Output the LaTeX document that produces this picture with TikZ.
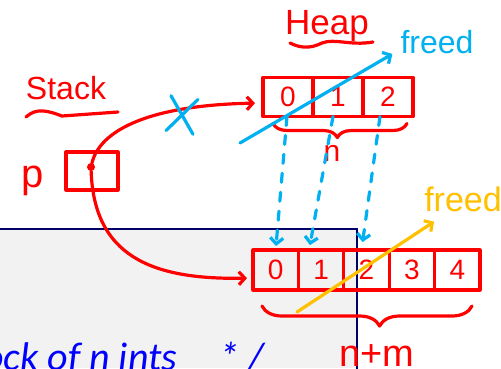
\documentclass[tikz,border=0pt]{standalone}
\usepackage{fontspec}
\newfontfamily\handfont{Liberation Sans}
\newfontfamily\slidefont{Carlito}
\usetikzlibrary{positioning}
\usetikzlibrary{arrows.meta}
\usetikzlibrary{shapes.misc}
\usetikzlibrary{decorations.pathreplacing}
\definecolor{inkred}{RGB}{255,0,0}
\definecolor{inkblue}{RGB}{0,176,240}
\definecolor{inkorange}{RGB}{255,192,0}
\definecolor{slidegray}{RGB}{242,242,242}
\definecolor{slidenavy}{RGB}{0,0,102}
\definecolor{slideblue}{RGB}{0,0,255}
\tikzset{
        ink/.style={line width=3.2pt, line cap=round, line join=round},
        % Hand-written labels
        label_red/.style={inner sep=0pt, text=inkred, font=\handfont\fontsize{32}{36}\selectfont},
        label_blue/.style={label_red, text=inkblue},
        label_orange/.style={label_red, text=inkorange},
        % Array cells
        cell_heap/.style={ink, draw=inkred, outer sep=0pt, inner sep=0pt, minimum width=50pt, minimum height=39pt, text=inkred, font=\handfont\fontsize{28}{30}\selectfont},
        cell_new/.style={cell_heap, minimum width=45.4pt, minimum height=40pt},
        % Pointers
        ptr_red/.style={ink, draw=inkred, -{Straight Barb[length=6pt,width=13pt]}},
        ptr_blue/.style={ink, draw=inkblue, -{Straight Barb[length=6pt,width=13pt]}},
        ptr_orange/.style={ink, draw=inkorange, -{Straight Barb[length=6pt,width=13pt]}},
        ptr_copy/.style={ptr_blue, dash pattern=on 9pt off 10pt},
        % Braces
        brace_red/.style={ink, draw=inkred, decorate, decoration={brace, mirror, amplitude=#1}}
}
\begin{document}
\begin{tikzpicture}[x=1pt, y=-1pt]
    \useasboundingbox (0,0) rectangle (501,368);
    % slide underneath
    \fill[slidegray] (0,229) rectangle (357,368);
    \draw[slidenavy, line width=2pt] (0,229) -- (357,229) -- (357,370);
    \node[anchor=base west, inner sep=0pt, text=slideblue, font=\slidefont\itshape\fontsize{40}{44}\selectfont] (slide_code) at (-17,370) {ock of n ints\hspace{42pt}* /};

    % stack side
    \node[label_red] (stack_label) at (66,88) {Stack};
    \draw[ink, draw=inkred] (26,117) .. controls (36,108) and (46,110) .. (62,116) -- (118,112);
    \node[label_red, font=\handfont\fontsize{40}{44}\selectfont] (p_label) at (33,181) {p};
    \node[ink, draw=inkred, minimum width=52pt, minimum height=38pt] (p_box) at (92,171) {};
    \node[circle, fill=inkred, inner sep=0pt, minimum size=8pt] (p_dot) at (91,167) {};

    % heap side
    \node[label_red, font=\handfont\fontsize{35}{38}\selectfont] (heap_label) at (327,26) {Heap};
    \draw[ink, draw=inkred] (290,43) .. controls (300,48) and (310,49) .. (322,43) .. controls (335,38) and (350,46) .. (373,42);
    \node[cell_heap] (heap_0) at (288,97) {0};
    \node[cell_heap, right=0pt of heap_0] (heap_1) {1};
    \node[cell_heap, right=0pt of heap_1] (heap_2) {2};
    \draw[brace_red=14pt, decoration={aspect=0.48}] ([xshift=10pt,yshift=-7pt]heap_0.south west) -- ([xshift=-6pt,yshift=-7pt]heap_2.south east);
    \node[label_red, font=\handfont\fontsize{30}{32}\selectfont] (n_label) at (332,153) {n};

    % new block
    \node[cell_new] (new_0) at (275.7,270) {0};
    \node[cell_new, right=0pt of new_0] (new_1) {1};
    \node[cell_new, right=0pt of new_1] (new_2) {2};
    \node[cell_new, right=0pt of new_2] (new_3) {3};
    \node[cell_new, right=0pt of new_3] (new_4) {4};
    \draw[brace_red=20pt, decoration={aspect=0.56}] ([xshift=9pt,yshift=-16pt]new_0.south west) -- ([xshift=-8pt,yshift=-16pt]new_4.south east);
    \node[label_red, font=\handfont\fontsize{38}{40}\selectfont] (nm_label) at (377,356) {n+m};

    % pointers
    \draw[ptr_red, shorten >=8pt] (p_dot) .. controls (100,130) and (150,105) .. ([yshift=-6pt]heap_0.west);
    \draw[ptr_red, shorten >=6pt] (p_dot) .. controls (94,255) and (150,280) .. ([yshift=-8pt]new_0.west);
    \node[cross out, draw=inkblue, ink, minimum width=24pt, minimum height=32pt, rotate=-8] (old_ptr_x) at (182,115) {};

    % copy of old cells
    \draw[ptr_copy, shorten >=4pt] ([xshift=-1pt]heap_0.south) -- (new_0.north);
    \draw[ptr_copy, shorten >=5pt] ([xshift=-5pt]heap_1.south) -- ([xshift=-12pt]new_1.north);
    \draw[ptr_copy, shorten >=8pt] ([xshift=-8pt]heap_2.south) -- ([xshift=-5pt]new_2.north);

    % freed blocks
    \node[label_blue] (blue_freed) at (437,42) {freed};
    \coordinate (blue_tail) at (240,143);
    \draw[ptr_blue] (blue_tail) -- ([xshift=-8pt]blue_freed.south west);
    \node[label_orange, font=\handfont\fontsize{34}{36}\selectfont] (orange_freed) at (463,199) {freed};
    \coordinate (orange_tail) at (297,312);
    \draw[ptr_orange] (orange_tail) -- ([xshift=10pt,yshift=-10pt]orange_freed.south west);
\end{tikzpicture}
\end{document}
